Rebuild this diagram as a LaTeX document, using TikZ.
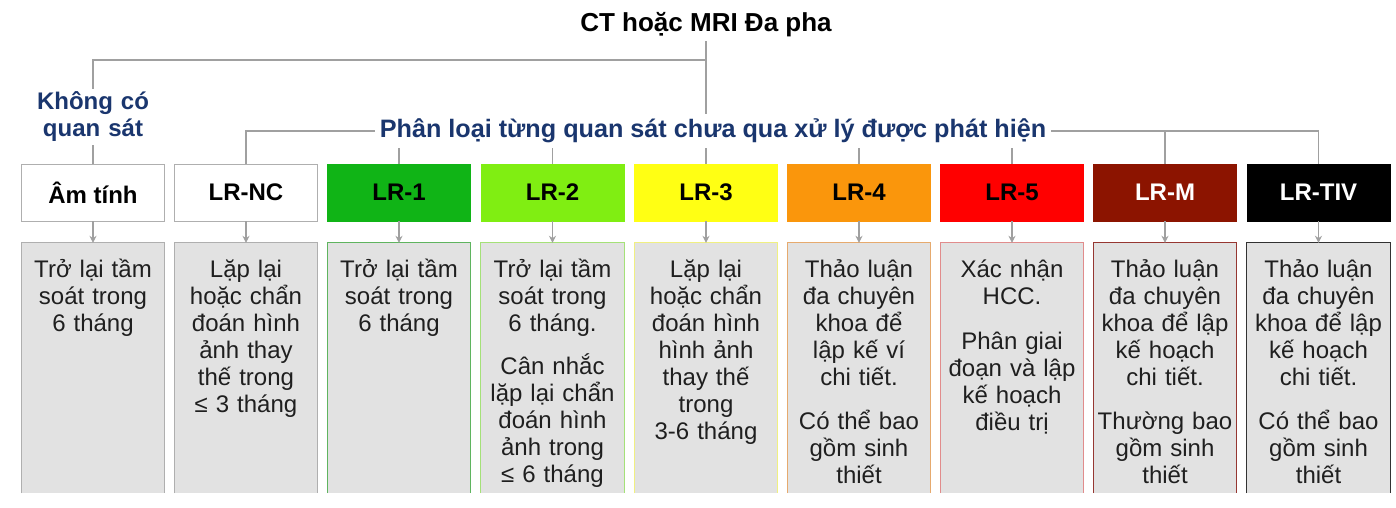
\documentclass[tikz,border=0pt]{standalone}
\usepackage{fontspec}
\setmainfont{Liberation Sans}
\usepackage{xcolor}
\usepackage{tikz}
\usetikzlibrary{arrows.meta,positioning}
\definecolor{linegray}{RGB}{160,160,160}
\definecolor{boxgray}{RGB}{226,226,226}
\definecolor{headblue}{RGB}{26,54,110}
\definecolor{lrone}{RGB}{16,180,22}
\definecolor{lrtwo}{RGB}{128,238,18}
\definecolor{lrthree}{RGB}{255,255,20}
\definecolor{lrfour}{RGB}{250,150,12}
\definecolor{lrfive}{RGB}{255,0,0}
\definecolor{lrm}{RGB}{140,20,0}
% edges of the lower boxes
\definecolor{edgegray}{RGB}{175,175,175}
\definecolor{edgeone}{RGB}{95,180,95}
\definecolor{edgetwo}{RGB}{165,225,120}
\definecolor{edgethree}{RGB}{240,240,130}
\definecolor{edgefour}{RGB}{230,170,110}
\definecolor{edgefive}{RGB}{225,140,140}
\definecolor{edgem}{RGB}{150,55,50}
\definecolor{edgetiv}{RGB}{50,50,50}

\begin{document}
\begin{tikzpicture}[x=1pt,y=-1pt,
  conn/.style={linegray, line width=1.2pt},
  arr/.style={conn, -{Stealth[length=7pt,width=7pt]}},
  cat/.style={draw, minimum width=143pt, minimum height=57pt, inner sep=0pt, font=\fontsize{24}{27}\selectfont\bfseries},
  detail/.style={fill=boxgray, minimum width=143pt, minimum height=250pt, inner sep=0pt},
  dtext/.style={anchor=base, align=center, text width=150pt, inner sep=0pt, font=\fontsize{24}{27}\selectfont, text=black!88},
  head/.style={text=headblue, align=center, font=\fontsize{24}{27}\selectfont\bfseries}]
\useasboundingbox (0,0) rectangle (1396,507);
\fill[white] (0,0) rectangle (1396,507);
% Headings
\node[font=\fontsize{26}{30}\selectfont\bfseries, inner sep=4pt] (title) at (706,25) {CT hoặc MRI Đa pha};
\node[head, text width=140pt, inner sep=3pt] (none) at (93,117) {Không có\\quan sát};
\node[head, font=\fontsize{25.2}{28}\selectfont\bfseries, inner sep=5pt] (cls) at (713,131) {Phân loại từng quan sát chưa qua xử lý được phát hiện};
\coordinate (split) at (706,60);
% Upper row
\node[cat, draw=edgegray, fill=white] (b1) at (93,192.5) {Âm tính};
\node[cat, draw=edgegray, fill=white] (b2) at (246,192.5) {LR-NC};
\node[cat, draw=lrone, fill=lrone] (b3) at (399,192.5) {LR-1};
\node[cat, draw=lrtwo, fill=lrtwo] (b4) at (552.5,192.5) {LR-2};
\node[cat, draw=lrthree, fill=lrthree] (b5) at (706,192.5) {LR-3};
\node[cat, draw=lrfour, fill=lrfour] (b6) at (859,192.5) {LR-4};
\node[cat, draw=lrfive, fill=lrfive] (b7) at (1012,192.5) {LR-5};
\node[cat, draw=lrm, fill=lrm, text=white] (b8) at (1165,192.5) {LR-M};
\node[cat, draw=black, fill=black, text=white] (b9) at (1318.5,192.5) {LR-TIV};
% Lower row
\node[detail] (d1) at (93,368) {};
\node[detail] (d2) at (246,368) {};
\node[detail] (d3) at (399,368) {};
\node[detail] (d4) at (552.5,368) {};
\node[detail] (d5) at (706,368) {};
\node[detail] (d6) at (859,368) {};
\node[detail] (d7) at (1012,368) {};
\node[detail] (d8) at (1165,368) {};
\node[detail] (d9) at (1318.5,368) {};
\draw[edgegray, line width=1pt] (d1.south west) |- (d1.north east) -- (d1.south east);
\draw[edgegray, line width=1pt] (d2.south west) |- (d2.north east) -- (d2.south east);
\draw[edgeone, line width=1pt] (d3.south west) |- (d3.north east) -- (d3.south east);
\draw[edgetwo, line width=1pt] (d4.south west) |- (d4.north east) -- (d4.south east);
\draw[edgethree, line width=1pt] (d5.south west) |- (d5.north east) -- (d5.south east);
\draw[edgefour, line width=1pt] (d6.south west) |- (d6.north east) -- (d6.south east);
\draw[edgefive, line width=1pt] (d7.south west) |- (d7.north east) -- (d7.south east);
\draw[edgem, line width=1pt] (d8.south west) |- (d8.north east) -- (d8.south east);
\draw[edgetiv, line width=1pt] (d9.south west) |- (d9.north east) -- (d9.south east);
% Texts of the lower row
\node[dtext] (x1) at (93,277) {Trở lại tầm\\soát trong\\6 tháng};
\node[dtext] (x2) at (246,277) {Lặp lại\\hoặc chẩn\\đoán hình\\ảnh thay\\thế trong\\≤ 3 tháng};
\node[dtext] (x3) at (399,277) {Trở lại tầm\\soát trong\\6 tháng};
\node[dtext] (x4) at (552.5,277) {Trở lại tầm\\soát trong\\6 tháng.\\[16pt]Cân nhắc\\lặp lại chẩn\\đoán hình\\ảnh trong\\≤ 6 tháng};
\node[dtext] (x5) at (706,277) {Lặp lại\\hoặc chẩn\\đoán hình\\hình ảnh\\thay thế\\trong\\3-6 tháng};
\node[dtext] (x6) at (859,277) {Thảo luận\\đa chuyên\\khoa để\\lập kế ví\\chi tiết.\\[17pt]Có thể bao\\gồm sinh\\thiết};
\node[dtext] (x7) at (1012,277) {Xác nhận\\HCC.\\[18pt]Phân giai\\đoạn và lập\\kế hoạch\\điều trị};
\node[dtext] (x8) at (1165,277) {Thảo luận\\đa chuyên\\khoa để lập\\kế hoạch\\chi tiết.\\[17pt]Thường bao\\gồm sinh\\thiết};
\node[dtext] (x9) at (1318.5,277) {Thảo luận\\đa chuyên\\khoa để lập\\kế hoạch\\chi tiết.\\[17pt]Có thể bao\\gồm sinh\\thiết};
% Connectors
\draw[conn] (title) -- (title |- cls.north);
\draw[conn] (split) -| (none);
\draw[conn] (none) -- (b1);
\draw[conn] (cls.west) -| (b2);
\draw[conn] (cls.east) -| (b9);
\draw[conn] (b8 |- cls.east) -- (b8);
\draw[conn] (b3 |- cls.south) -- (b3);
\draw[conn] (b4 |- cls.south) -- (b4);
\draw[conn] (b5 |- cls.south) -- (b5);
\draw[conn] (b6 |- cls.south) -- (b6);
\draw[conn] (b7 |- cls.south) -- (b7);
\draw[arr] (b1) -- (d1);
\draw[arr] (b2) -- (d2);
\draw[arr] (b3) -- (d3);
\draw[arr] (b4) -- (d4);
\draw[arr] (b5) -- (d5);
\draw[arr] (b6) -- (d6);
\draw[arr] (b7) -- (d7);
\draw[arr] (b8) -- (d8);
\draw[arr] (b9) -- (d9);
\end{tikzpicture}
\end{document}
